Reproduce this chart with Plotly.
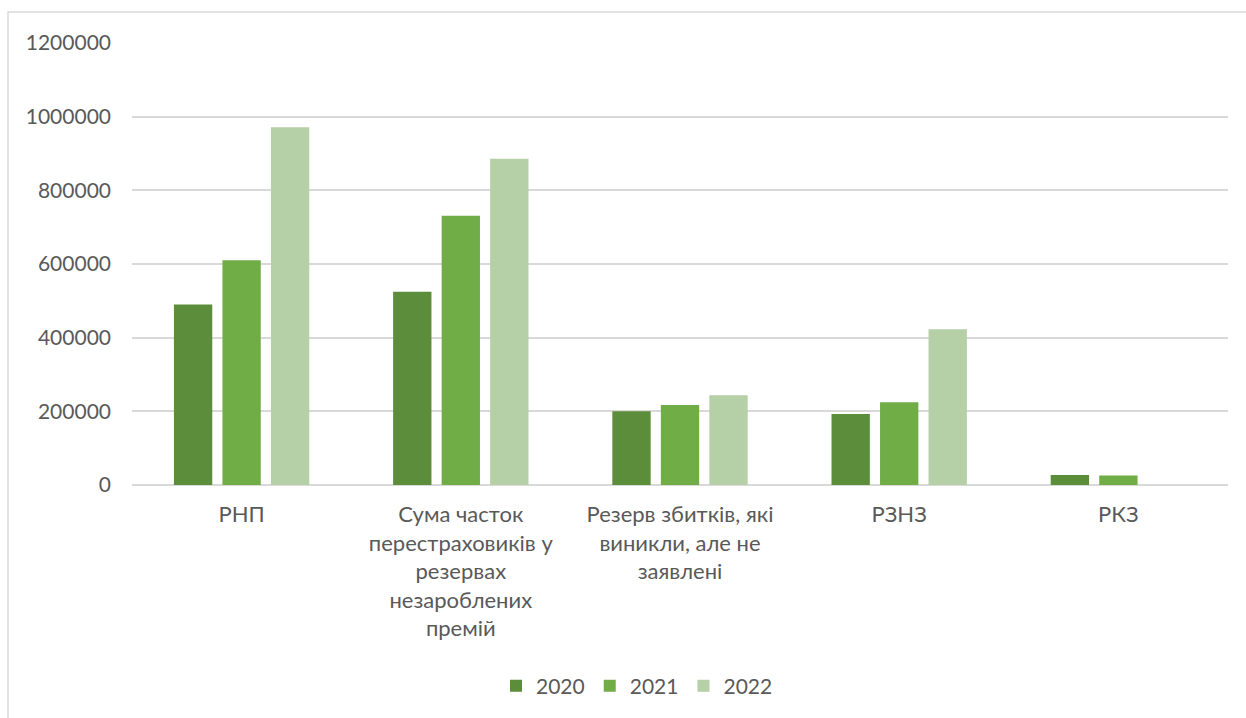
import plotly.graph_objects as go

# Categories (x axis) and reserve amounts per year
categories = [
    "РНП",
    "Сума часток<br>перестраховиків у<br>резервах<br>незароблених<br>премій",
    "Резерв збитків, які<br>виникли, але не<br>заявлені",
    "РЗНЗ",
    "РКЗ",
]
years = ["2020", "2021", "2022"]
values_2020 = [490000, 525000, 200000, 193000, 27000]
values_2021 = [610000, 731000, 217000, 225000, 26000]
values_2022 = [971000, 886000, 244000, 423000, 0]
y_ticks = [0, 200000, 400000, 600000, 800000, 1000000, 1200000]

series = [values_2020, values_2021, values_2022]
colors = ["#5B8D3A", "#70AD47", "#B5CFA6"]

FONT = "Lato, Calibri, Carlito, sans-serif"
TEXT = "#595959"
GRID = "#D9D9D9"
FS = 21

fig = go.Figure()
for name, vals, col in zip(years, series, colors):
    fig.add_trace(go.Bar(
        x=categories, y=vals, name=name,
        marker=dict(color=col, line=dict(width=0)),
        hoverinfo="x+y+name",
    ))

W, H = 1246, 718
ML, MR, MT, MB = 132, 18, 43, 233
pw, ph = W - ML - MR, H - MT - MB

fig.update_layout(
    width=W, height=H,
    margin=dict(l=ML, r=MR, t=MT, b=MB, pad=0),
    paper_bgcolor="white", plot_bgcolor="white",
    font=dict(family=FONT, size=FS, color=TEXT),
    barmode="group", bargap=0.336, bargroupgap=0.21,
    showlegend=True,
    legend=dict(
        orientation="h",
        x=(637 - ML) / pw, xanchor="center",
        y=(H - MB - 686) / ph, yanchor="middle",
        font=dict(family=FONT, size=FS, color=TEXT),
        itemwidth=30, traceorder="normal",
    ),
    xaxis=dict(
        showgrid=False, showline=False, zeroline=False, ticks="",
        tickfont=dict(family=FONT, size=22, color=TEXT),
        ticklabelstandoff=14,
    ),
    yaxis=dict(
        range=[0, 1200000], tickvals=y_ticks,
        ticktext=[str(v) for v in y_ticks],
        showgrid=True, gridcolor=GRID, gridwidth=1.5,
        zeroline=True, zerolinecolor=GRID, zerolinewidth=1.5,
        showline=False, ticks="",
        tickfont=dict(family=FONT, size=FS, color=TEXT),
        ticklabelstandoff=20,
    ),
)

# outer chart frame (extends past the right and bottom edges)
fig.add_shape(
    type="rect", xref="paper", yref="paper",
    x0=(8 - ML) / pw, x1=(W + 10 - ML) / pw,
    y0=(H - MB - (H + 10)) / ph, y1=(H - MB - 12) / ph,
    line=dict(color=GRID, width=1.5), fillcolor="rgba(0,0,0,0)", layer="below",
)

fig.write_html("out.html")
